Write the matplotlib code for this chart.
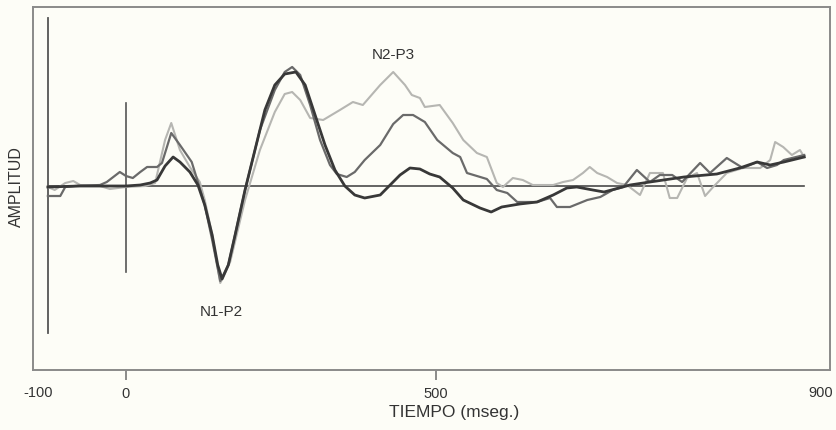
import matplotlib
matplotlib.use("Agg")
import matplotlib.pyplot as plt

plt.rcParams['font.family'] = ['Liberation Sans', 'DejaVu Sans']

# ---- data (time in ms, amplitude in arbitrary units) ----
t_dark = [-126, -74, 0, 23, 39, 50, 63, 76, 87, 103, 116, 127, 139, 148, 155, 165, 176, 192,
          208, 224, 240, 256, 274, 289, 305, 321, 337, 353, 369, 385, 410, 426, 442, 458,
          474, 490, 506, 527, 544, 571, 589, 606, 635, 663, 689, 711, 727, 753, 771, 813,
          845, 900, 953, 990, 1018, 1039, 1061, 1094]
a_dark = [-0.1, 0.0, 0.0, 0.1, 0.3, 0.6, 2.0, 2.9, 2.4, 1.4, 0.1, -1.9, -4.9, -7.9, -9.3, -7.9,
          -4.9, -0.4, 3.6, 7.6, 10.1, 11.2, 11.4, 10.1, 7.1, 4.1, 1.6, 0.0, -0.9, -1.2, -0.9,
          0.1, 1.1, 1.8, 1.7, 1.2, 0.9, -0.2, -1.4, -2.2, -2.6, -2.1, -1.8, -1.6, -0.9, -0.2,
          -0.1, -0.4, -0.6, 0.1, 0.4, 0.9, 1.2, 1.8, 2.4, 2.1, 2.4, 2.9]

t_mid = [-126, -106, -98, -82, -42, -31, -10, 0, 11, 23, 34, 50, 58, 73, 87, 106, 115, 127,
         139, 152, 165, 192, 216, 240, 256, 268, 281, 297, 313, 329, 340, 356, 369, 385, 410,
         431, 447, 463, 482, 502, 527, 539, 550, 582, 598, 615, 631, 663, 684, 695, 716, 744,
         765, 785, 802, 824, 845, 861, 881, 897, 926, 942, 969, 995, 1018, 1034, 1050, 1061,
         1094]
a_mid = [-1.0, -1.0, -0.1, 0.0, 0.1, 0.4, 1.4, 1.0, 0.8, 1.4, 1.9, 1.9, 2.3, 5.3, 4.1, 2.4,
         0.6, -1.9, -5.4, -9.5, -7.9, -0.4, 5.6, 9.6, 11.4, 11.9, 11.1, 8.1, 4.6, 2.1, 1.2,
         0.9, 1.4, 2.6, 4.1, 6.2, 7.1, 7.1, 6.4, 4.6, 3.3, 2.9, 1.3, 0.7, -0.4, -0.7, -1.6,
         -1.6, -1.2, -2.1, -2.1, -1.4, -1.1, -0.4, -0.1, 1.6, 0.4, 1.1, 1.1, 0.4, 2.3, 1.3,
         2.8, 1.8, 2.4, 1.8, 2.1, 2.6, 3.1]

t_light = [-126, -115, -98, -85, -74, -42, -26, 0, 31, 47, 63, 73, 87, 103, 119, 127, 139,
           152, 168, 192, 216, 240, 256, 268, 281, 297, 318, 345, 366, 382, 410, 431, 450,
           461, 474, 482, 506, 527, 544, 566, 582, 598, 608, 624, 640, 656, 689, 705, 721,
           737, 748, 760, 776, 792, 808, 829, 845, 866, 877, 889, 905, 921, 934, 947, 969,
           995, 1023, 1039, 1047, 1060, 1074, 1087, 1094]
a_light = [-0.1, -0.4, 0.3, 0.5, 0.1, 0.0, -0.3, -0.1, 0.0, 0.3, 4.6, 6.3, 3.6, 1.9, 0.4,
           -1.4, -4.9, -9.7, -7.6, -1.4, 3.6, 7.4, 9.2, 9.4, 8.6, 6.8, 6.6, 7.6, 8.4, 8.1,
           10.1, 11.4, 10.1, 9.1, 8.8, 7.9, 8.1, 6.3, 4.6, 3.3, 2.9, 0.3, -0.1, 0.8, 0.6,
           0.1, 0.1, 0.4, 0.6, 1.3, 1.9, 1.3, 0.9, 0.3, 0.1, -0.9, 1.3, 1.3, -1.2, -1.2, 0.8,
           1.3, -1.0, -0.1, 1.3, 1.8, 1.8, 2.6, 4.4, 3.9, 3.1, 3.6, 2.9]

tick_values = [0, 500]
tick_labels = ['0', '500']
edge_labels = ['-100', '900']
peak_labels = ['N2-P3', 'N1-P2']
x_label = 'TIEMPO (mseg.)'
y_label = 'AMPLITUD'

# ---- figure ----
bg = '#fdfdf7'
fig = plt.figure(figsize=(8.37, 4.30), dpi=100, facecolor=bg)
ax = fig.add_axes([33 / 837, 60 / 430, 797 / 837, 363 / 430])
ax.set_facecolor(bg)

ax.set_xlim(-150, 1135.5)
ax.set_ylim(-18.4, 17.9)

# reference lines
t0, t1 = t_dark[0], t_dark[-1]
ax.plot([t0, t1], [0, 0], color='#4a4a4a', lw=1.2, zorder=1)
ax.plot([t0, t0], [16.8, -14.7], color='#555555', lw=1.3, zorder=1)
ax.plot([0, 0], [8.3, -8.6], color='#555555', lw=1.2, zorder=1)

ax.plot(t_light, a_light, color='#b6b6b2', lw=1.5, solid_joinstyle='round', zorder=2)
ax.plot(t_mid, a_mid, color='#6a6a6a', lw=1.6, solid_joinstyle='round', zorder=3)
ax.plot(t_dark, a_dark, color='#383838', lw=2.0, solid_joinstyle='round', zorder=4)

for s in ax.spines.values():
    s.set_color('#8a8a8a')
    s.set_linewidth(1.4)

ax.set_yticks([])
ax.set_xticks(tick_values)
ax.set_xticklabels(tick_labels, fontsize=10.5, color='#333333')
ax.tick_params(axis='x', direction='out', length=7, width=1.2, color='#777777', pad=5)

ax.text(5 / 797, -23 / 363, edge_labels[0], transform=ax.transAxes, ha='center', va='center',
        fontsize=10.5, color='#333333')
ax.text(788 / 797, -23 / 363, edge_labels[1], transform=ax.transAxes, ha='center', va='center',
        fontsize=10.5, color='#333333')

ax.text(431, 13.1, peak_labels[0], ha='center', va='center', fontsize=11, color='#333333')
ax.text(153, -12.6, peak_labels[1], ha='center', va='center', fontsize=11, color='#333333')

fig.text(454 / 837, 1 - 413 / 430, x_label, ha='center', va='center', fontsize=12.5,
         color='#333333')
fig.text(16 / 837, 1 - 187 / 430, y_label, ha='center', va='center', rotation=90,
         fontsize=11.5, color='#333333')

fig.savefig('out.png', dpi=100, facecolor=bg)
